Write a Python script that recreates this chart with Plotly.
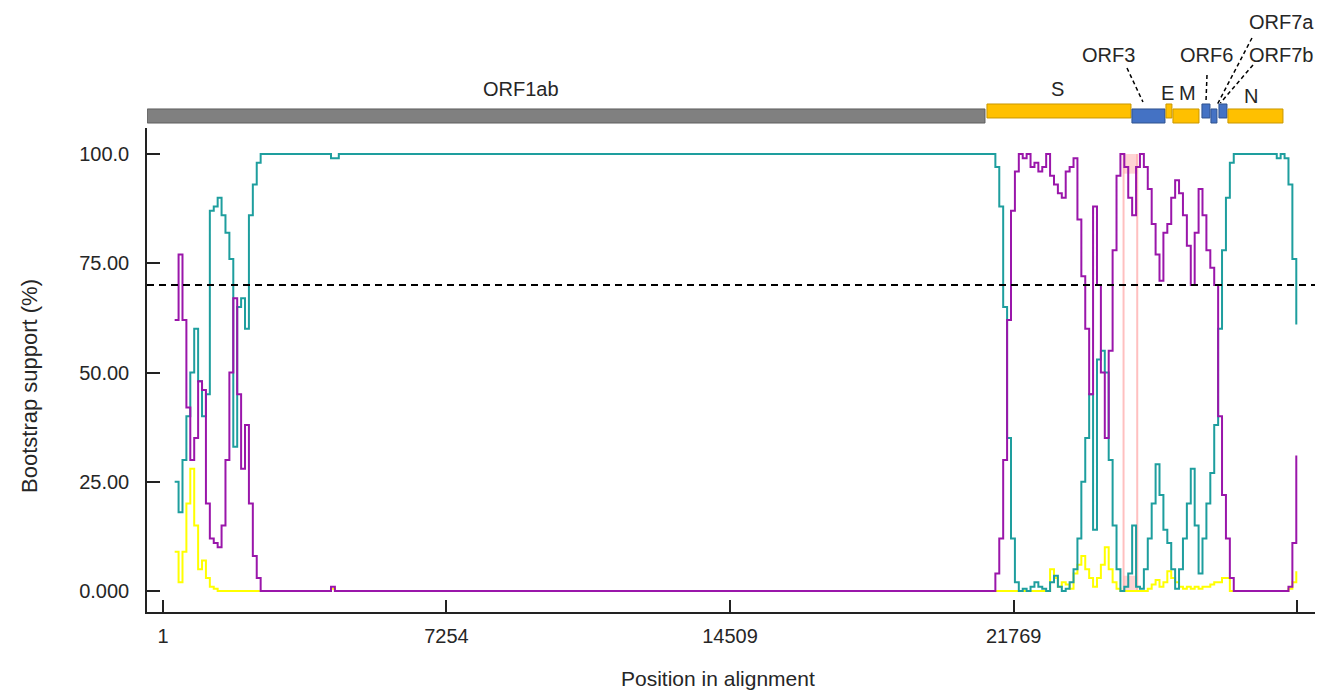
import plotly.graph_objects as go

# ---------------- data ----------------
positions = [
    300, 400, 500, 600, 700, 800, 900, 1000, 1100, 1200, 1300, 1400, 1500,
    1600, 1700, 1800, 1900, 2000, 2100, 2200, 2300, 2400, 2500,
    2600, 4200, 4300, 4400, 4500, 21000,
    21100, 21200, 21300, 21400, 21500, 21600, 21700, 21800, 21900, 22000,
    22100, 22200, 22300, 22400, 22500, 22600, 22700, 22800, 22900, 23000,
    23100, 23200, 23300, 23400, 23500, 23600, 23700, 23800, 23900, 24000,
    24100, 24200, 24300, 24400, 24500, 24600, 24700, 24800, 24900, 25000,
    25100, 25200, 25300, 25400, 25500, 25600, 25700, 25800, 25900, 26000,
    26100, 26200, 26300, 26400, 26500, 26600, 26700, 26800, 26900, 27000,
    27100, 27200, 27300, 27400, 27500, 27600, 27700, 27800, 27900, 28000,
    28100, 28200, 28300, 28400, 28500, 28600, 28700, 28800, 28900, 29000,
]

teal = [
    25, 18, 30, 40, 50, 60, 48, 40, 45, 87, 88, 90, 86,
    82, 76, 33, 65, 67, 60, 86, 93, 98, 100,
    100, 100, 99, 99, 100, 100,
    100, 100, 97, 88, 65, 35, 12, 2, 0, 0.5,
    0, 1, 2, 1, 0.5, 0, 2, 3.5, 1, 0,
    0.5, 2, 5, 12, 25, 35, 45, 14, 53, 55,
    50, 30, 15, 5, 0, 1, 4, 15, 1, 0.5,
    5, 12, 20, 29, 22, 14, 11, 5, 0.5, 5,
    12, 20, 28, 15, 4, 12, 20, 27, 38, 60,
    78, 90, 98, 100, 100, 100, 100, 100, 100, 100,
    100, 100, 100, 100, 99, 100, 99, 93, 76, 61,
]

purple = [
    62, 77, 62, 42, 30, 35, 48, 46, 20, 12, 11, 10, 15,
    30, 50, 67, 45, 28, 38, 20, 8, 3, 0,
    0, 0, 1, 0, 0, 0,
    0, 0, 4, 12, 30, 62, 87, 96, 100, 99,
    100, 97, 98, 96, 97, 100, 95, 93, 91, 90,
    96, 97, 99, 85, 72, 60, 45, 88, 70, 50,
    35, 55, 78, 95, 100, 97, 90, 86, 97, 100,
    97, 92, 84, 77, 71, 82, 84, 90, 94, 91,
    86, 79, 70, 82, 92, 86, 78, 74, 70, 40,
    22, 12, 3, 0, 0, 0, 0, 0, 0, 0,
    0, 0, 0, 0, 0, 0, 0, 1, 11, 31,
]

yellow = [
    9, 2, 9, 20, 28, 15, 5, 7, 3, 1, 0.5, 0, 0,
    0, 0, 0, 0, 0, 0, 0, 0, 0, 0,
    0, 0, 0.5, 0, 0, 0,
    0, 0, 0, 0, 0, 0, 0, 0, 0, 0,
    0, 0, 0, 0, 0, 0, 5, 3, 1, 2,
    1.5, 0.5, 4, 6, 8, 5, 3, 1, 3, 6,
    10, 5, 2, 0.5, 0, 0, 0, 0, 0, 0,
    0, 0.5, 1.5, 2.5, 1, 2, 4.5, 3, 2, 1,
    0.5, 1, 0.5, 1, 0.5, 1, 1, 1.5, 2, 2,
    3, 3, 0, 0, 0, 0, 0, 0, 0, 0,
    0, 0, 0, 0, 0, 0, 0, 0.5, 2, 4.5,
]

x_tickvals = [1, 7254, 14509, 21769, 29018]
y_tickvals = [0, 25, 50, 75, 100]
y_ticktext = ["0.000", "25.00", "50.00", "75.00", "100.0"]
threshold = 70

gene_names = ["ORF1ab", "S", "ORF3", "E", "M", "ORF6", "ORF7a", "ORF7b", "N"]
gene_start = [-400, 21085, 24795, 25665, 25844, 26586, 26816, 27021, 27251]
gene_end = [21034, 24770, 25640, 25818, 26510, 26791, 26970, 27226, 28659]
gene_kind = ["grey", "orange", "blue", "orange", "orange", "blue", "blue", "blue", "orange"]
gene_row = ["low", "high", "low", "high", "low", "high", "low", "high", "low"]

highlight = [24580, 24930]

# ---------------- figure ----------------
FONT = "Arial, Liberation Sans, sans-serif"
TXT = "#262626"

fig = go.Figure()
for name, vals, col in [("yellow", yellow, "#FFFF00"),
                        ("teal", teal, "#1E9E9E"),
                        ("purple", purple, "#9A16AA")]:
    fig.add_trace(go.Scatter(x=positions, y=vals, mode="lines", name=name,
                             line=dict(color=col, width=2, shape="hv"),
                             showlegend=False, hoverinfo="skip"))

shapes = []
# highlighted window
shapes.append(dict(type="rect", xref="x", yref="y", x0=highlight[0], x1=highlight[1],
                   y0=95.5, y1=100, fillcolor="rgba(255,160,160,0.45)", line_width=0, layer="below"))
shapes.append(dict(type="rect", xref="x", yref="y", x0=highlight[0], x1=highlight[1],
                   y0=0, y1=3.5, fillcolor="rgba(255,160,160,0.45)", line_width=0, layer="below"))
for hx in highlight:
    shapes.append(dict(type="line", xref="x", yref="y", x0=hx, x1=hx, y0=0, y1=100,
                       line=dict(color="rgba(255,150,150,0.6)", width=2), layer="below"))
# threshold
shapes.append(dict(type="line", xref="paper", yref="y", x0=0, x1=1, y0=threshold, y1=threshold,
                   line=dict(color="black", width=2, dash="7px,5px")))

# genome map
kind_fill = {"grey": ("#808080", "#5E5E5E"), "orange": ("#FFC000", "#C99700"), "blue": ("#4472C4", "#2F528F")}
row_y = {"high": (1.0207, 1.0496), "low": (1.0103, 1.0393)}
for s, e, k, r in zip(gene_start, gene_end, gene_kind, gene_row):
    fc, lc = kind_fill[k]
    y0, y1 = row_y[r]
    shapes.append(dict(type="rect", xref="x", yref="paper", x0=s, x1=e, y0=y0, y1=y1,
                       fillcolor=fc, line=dict(color=lc, width=1)))

leaders = [  # (x0, y0, x1, y1) in data-x / paper-y
    (24668, 1.1240, 25077, 1.0537),
    (26715, 1.1095, 26690, 1.0558),
    (27866, 1.1860, 26971, 1.0475),
    (27892, 1.1302, 27058, 1.0517),
]
for x0, y0, x1, y1 in leaders:
    shapes.append(dict(type="line", xref="x", yref="paper", x0=x0, y0=y0, x1=x1, y1=y1,
                       line=dict(color="black", width=1.5, dash="4px,3px")))

label_pos = {"ORF1ab": (9162, 1.0806), "S": (22902, 1.0806), "ORF3": (24207, 1.1508),
             "E": (25717, 1.0723), "M": (26229, 1.0723), "ORF6": (26715, 1.1508),
             "ORF7a": (28620, 1.2190), "ORF7b": (28620, 1.1508), "N": (27841, 1.0661)}
annotations = []
for g in gene_names:
    gx, gy = label_pos[g]
    annotations.append(dict(x=gx, y=gy, xref="x", yref="paper", text=g, showarrow=False,
                            font=dict(family=FONT, size=20, color=TXT),
                            xanchor="center", yanchor="middle"))
annotations.append(dict(x=0.488, y=-0.1364, xref="paper", yref="paper", text="Position in alignment",
                        showarrow=False, font=dict(family=FONT, size=21, color=TXT),
                        xanchor="center", yanchor="middle"))
annotations.append(dict(x=-0.1, y=0.467, xref="paper", yref="paper", text="Bootstrap support (%)",
                        showarrow=False, textangle=-90, font=dict(family=FONT, size=22, color=TXT),
                        xanchor="center", yanchor="middle"))

# the page adds an 8 px body margin, so the figure is 8 px smaller each way
fig.update_layout(
    width=1315, height=684,
    margin=dict(l=139, r=6, t=120, b=80),
    paper_bgcolor="white", plot_bgcolor="white",
    shapes=shapes, annotations=annotations,
    font=dict(family=FONT, size=20, color=TXT),
    xaxis=dict(range=[-408, 29530], tickvals=x_tickvals, ticktext=[str(v) for v in x_tickvals],
               showgrid=False, zeroline=False, showline=True, linecolor="#222", linewidth=1.5,
               ticks="inside", ticklen=12, tickwidth=1.5, tickcolor="#222",
               ticklabelstandoff=5, tickfont=dict(family=FONT, size=20, color=TXT)),
    yaxis=dict(range=[-4.8, 105.95], tickvals=y_tickvals, ticktext=y_ticktext,
               showgrid=False, zeroline=False, showline=True, linecolor="#222", linewidth=1.5,
               ticks="inside", ticklen=13, tickwidth=1.5, tickcolor="#222",
               ticklabelstandoff=12, tickfont=dict(family=FONT, size=20, color=TXT)),
)

fig.write_html("out.html")
